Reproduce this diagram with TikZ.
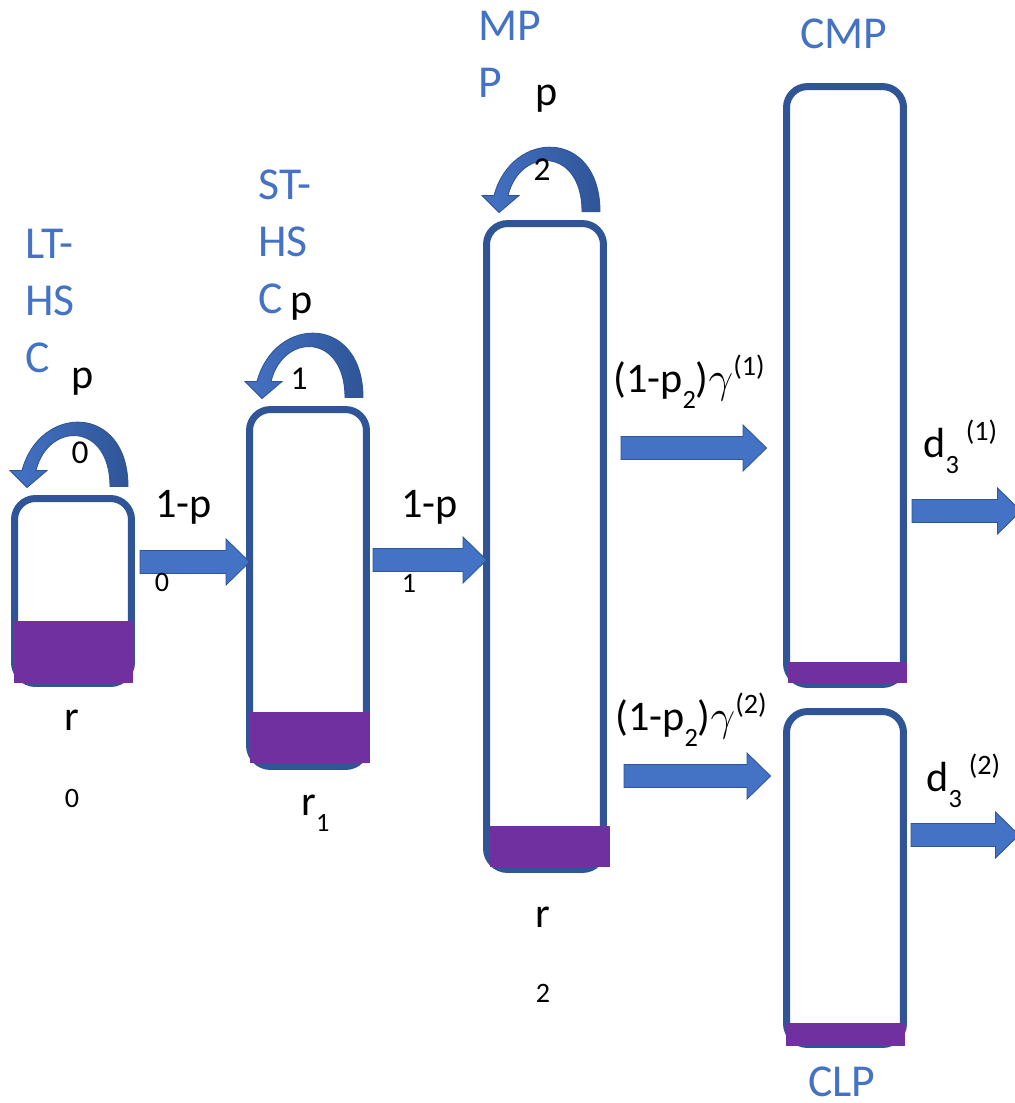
\documentclass[tikz,border=0pt]{standalone}
\usepackage{fontspec}
\setmainfont{Carlito}
\usetikzlibrary{calc}
\definecolor{boxblue}{HTML}{2F5597}
\definecolor{arrowblue}{HTML}{4472C4}
\definecolor{fillpurple}{HTML}{7030A0}
\newcommand{\lo}[1]{\raisebox{-0.4em}{\fontsize{15}{18}\selectfont #1}}
\newcommand{\hi}[1]{\raisebox{0.38em}{\fontsize{16}{19}\selectfont #1}}

\begin{document}
\begin{tikzpicture}[x=0.02cm,y=-0.02cm,
    box/.style={draw=boxblue,line width=0.14cm,rounded corners=0.42cm,minimum width=2.34cm,inner sep=0pt,outer sep=0pt},
    lbl/.style={font=\fontsize{24}{29}\selectfont,inner sep=0pt},
    sub/.style={font=\fontsize{16}{19}\selectfont,inner sep=0pt},
    loopsub/.style={font=\fontsize{19}{23}\selectfont,inner sep=0pt},
    tag/.style={text=arrowblue,font=\fontsize{26}{32.3}\selectfont,inner sep=0pt},
    tags/.style={tag,align=left},
    flow/.style={draw=boxblue,line width=0.5pt,fill=arrowblue,
      to path={let \p1=(\tikztostart), \p2=(\tikztotarget) in
        (\x1,\y1+0.23cm) -- (\x2-0.47cm,\y1+0.23cm) -- (\x2-0.47cm,\y1+0.46cm) -- (\x2,\y1)
        -- (\x2-0.47cm,\y1-0.46cm) -- (\x2-0.47cm,\y1-0.23cm) -- (\x1,\y1-0.23cm) -- cycle}}]
  \useasboundingbox (0,0) rectangle (1015,1103);
  % compartments
  \node[box,minimum height=3.7cm] (b0) at (73,591) {};
  \node[box,minimum height=7.14cm] (b1) at (308,588) {};
  \node[box,minimum height=12.92cm] (b2) at (545,546.5) {};
  \node[box,minimum height=11.96cm] (b3) at (845,385.5) {};
  \node[box,minimum height=6.66cm] (b4) at (845,878) {};
  % filled bottoms (purple)
  \fill[fillpurple] (14,621) rectangle (133,683);
  \fill[fillpurple] (250,712) rectangle (370,763);
  \fill[fillpurple] (490,826) rectangle (610,867);
  \fill[fillpurple] (788,662) rectangle (907,683);
  \fill[fillpurple] (786,1023) rectangle (905,1046);
  % self-renewal loops on top of the first three boxes
  \foreach \b in {b0,b1,b2}{
    \begin{scope}[shift={(\b.north)}]
      \shadedraw[left color=arrowblue,right color=boxblue,draw=boxblue,line width=0.5pt]
        (55,-12) .. controls (55,-95) and (-33,-95) .. (-51,-28)
        -- (-63,-28) -- (-46,-11) -- (-26,-28) -- (-37,-28)
        .. controls (-25,-77) and (37,-77) .. (37,-12) -- cycle;
    \end{scope}
  }
  % block arrows between compartments
  \coordinate (f0) at (140,562);
  \coordinate (f1) at (373,560);
  \coordinate (g1) at (621,448);
  \coordinate (g2) at (624,776);
  \coordinate (d1) at (912,511);
  \coordinate (d2) at (911,835);
  \coordinate (d1e) at (1021,511);
  \coordinate (d2e) at (1019,835);
  \path[flow] (f0) to (f0 -| b1.west);
  \path[flow] (f1) to (f1 -| b2.west);
  \path[flow] (g1) to ([xshift=-0.4cm]g1 -| b3.west);
  \path[flow] (g2) to ([xshift=-0.32cm]g2 -| b4.west);
  \path[flow] (d1) to (d1e);
  \path[flow] (d2) to (d2e);
  % compartment names (base = last line)
  \node[tags,anchor=base west] (n0) at (25,372) {LT-\\HS\\C};
  \node[tags,anchor=base west] (n1) at (258,313) {ST-\\HS\\C};
  \node[tags,anchor=base west] (n2) at (478,97) {MP\\P};
  \node[tag,anchor=base west] (n3) at (800,48) {CMP};
  \node[tag,anchor=base west] (n4) at (808,1096) {CLP};
  % rates
  \node[lbl,anchor=base west] (lp0) at (71,388) {p};
  \node[loopsub,anchor=base] (lp0s) at (80,463) {0};
  \node[lbl,anchor=base west] (lp1) at (290,313) {p};
  \node[loopsub,anchor=base] (lp1s) at (299,389) {1};
  \node[lbl,anchor=base west] (lp2) at (535,105) {p};
  \node[loopsub,anchor=base] (lp2s) at (542,180) {2};
  \node[lbl,anchor=base west] (q0) at (155,517) {1-p};
  \node[sub,anchor=base] (q0s) at (162,591) {0};
  \node[lbl,anchor=base west] (q1) at (401,517) {1-p};
  \node[sub,anchor=base] (q1s) at (409,592) {1};
  \node[lbl,anchor=base west] (g1l) at (613,392) {(1-p\lo{2})$\gamma$\hi{(1)}};
  \node[lbl,anchor=base west] (g2l) at (615,730) {(1-p\lo{2})$\gamma$\hi{(2)}};
  \node[lbl,anchor=base west] (d1l) at (923,457) {d\lo{3}\,\hi{(1)}};
  \node[lbl,anchor=base west] (d2l) at (926,791) {d\lo{3}\,\hi{(2)}};
  % renewal/death labels under boxes
  \node[lbl,anchor=base] (r0) at (72,730) {r};
  \node[sub,anchor=base] (r0s) at (72,807) {0};
  \node[lbl,anchor=base west] (r1) at (301,815) {r\lo{1}};
  \node[lbl,anchor=base] (r2) at (543,927) {r};
  \node[sub,anchor=base] (r2s) at (543,1002) {2};
\end{tikzpicture}
\end{document}
